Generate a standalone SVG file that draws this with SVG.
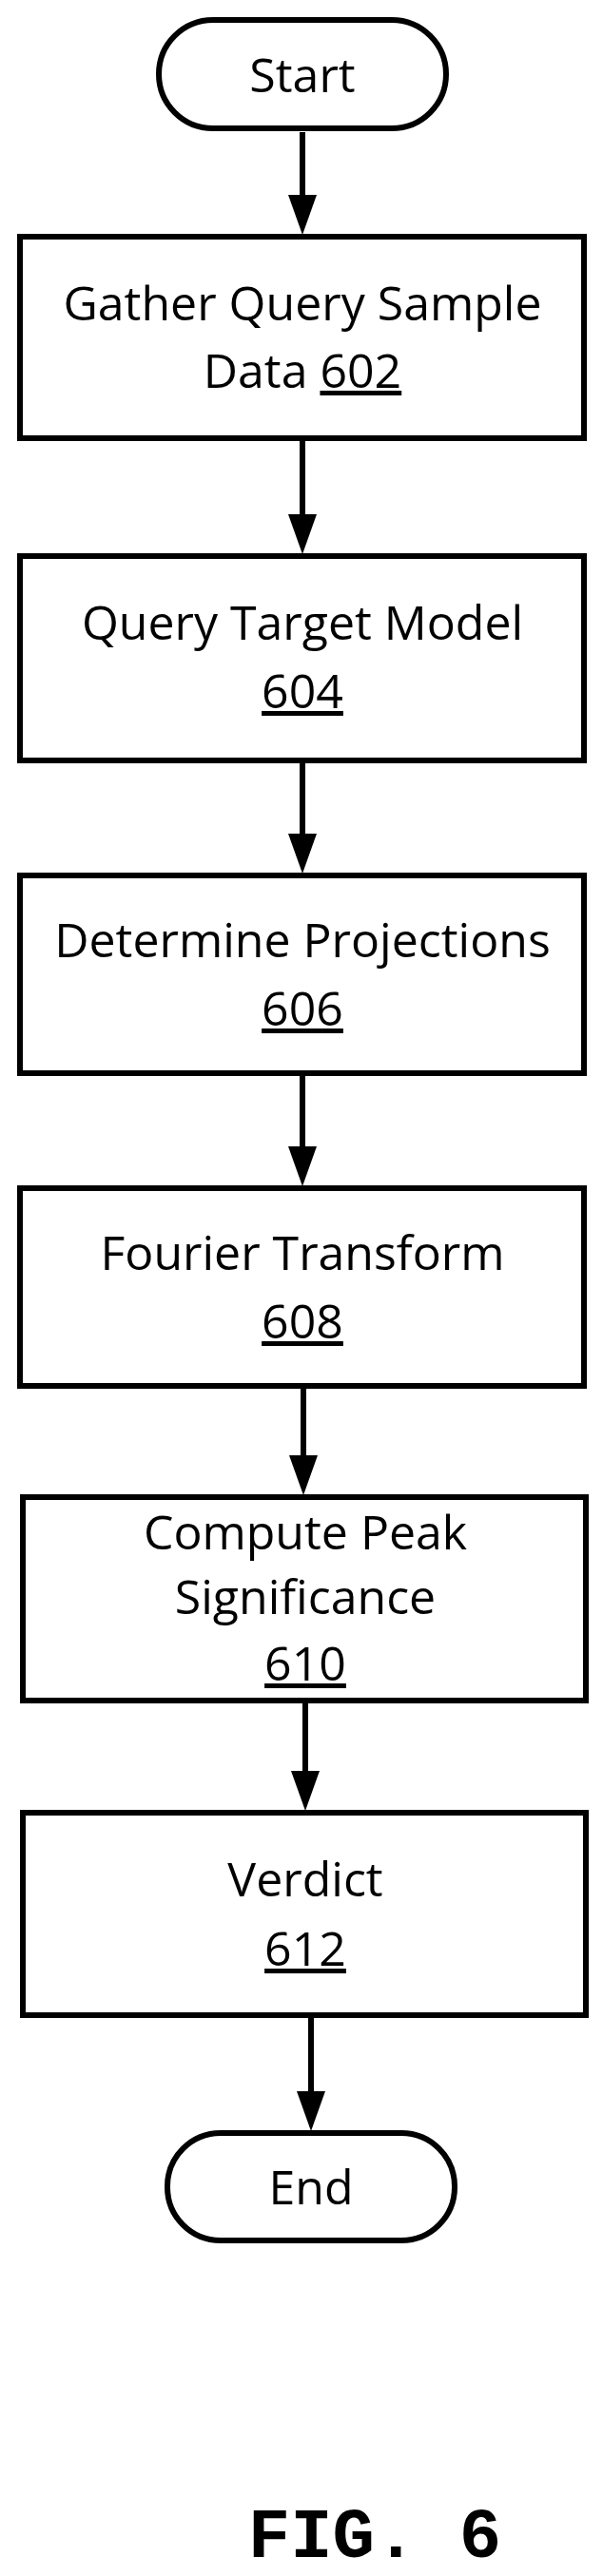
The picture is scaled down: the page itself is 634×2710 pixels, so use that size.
<svg xmlns="http://www.w3.org/2000/svg" width="634" height="2710" viewBox="0 0 634 2710">
<style>
.b{fill:#fff;stroke:#000;stroke-width:6}
.t{font-family:"Open Sans","Liberation Sans",sans-serif;font-size:50px;text-anchor:middle;fill:#000}
.u{text-decoration:underline}
.c{stroke:#000;stroke-width:6;fill:none}
.h{fill:#000}
</style>
<g id="connectors">
<path class="c" d="M318,139V210"/><path class="h" d="M303,205h30l-15,42z"/>
<path class="c" d="M318,459V546"/><path class="h" d="M303,541h30l-15,42z"/>
<path class="c" d="M318,800V882"/><path class="h" d="M303,877h30l-15,42z"/>
<path class="c" d="M318,1129V1211"/><path class="h" d="M303,1206h30l-15,42z"/>
<path class="c" d="M319,1458V1536"/><path class="h" d="M304,1531h30l-15,42z"/>
<path class="c" d="M321,1791V1868"/><path class="h" d="M306,1863h30l-15,42z"/>
<path class="c" d="M327,2120V2205"/><path class="h" d="M312,2200h30l-15,42z"/>
</g>
<g id="start"><rect class="b" x="167" y="21" width="302" height="114" rx="57"/><text class="t" x="318" y="97">Start</text></g>
<g id="n602"><rect class="b" x="21" y="249" width="593" height="212"/><text class="t" x="318" y="337">Gather Query Sample</text><text class="t" x="318" y="408">Data <tspan class="u">602</tspan></text></g>
<g id="n604"><rect class="b" x="21" y="585" width="593" height="215"/><text class="t" x="318" y="673">Query Target Model</text><text class="t u" x="318" y="745">604</text></g>
<g id="n606"><rect class="b" x="21" y="921" width="593" height="208"/><text class="t" x="318" y="1007">Determine Projections</text><text class="t u" x="318" y="1079">606</text></g>
<g id="n608"><rect class="b" x="21" y="1250" width="593" height="208"/><text class="t" x="318" y="1336">Fourier Transform</text><text class="t u" x="318" y="1408">608</text></g>
<g id="n610"><rect class="b" x="24" y="1575" width="592" height="214"/><text class="t" x="321" y="1630">Compute Peak</text><text class="t" x="321" y="1698">Significance</text><text class="t u" x="321" y="1768">610</text></g>
<g id="n612"><rect class="b" x="24" y="1907" width="592" height="213"/><text class="t" x="321" y="1995">Verdict</text><text class="t u" x="321" y="2068">612</text></g>
<g id="end"><rect class="b" x="176" y="2244" width="302" height="113" rx="56"/><text class="t" x="327" y="2319">End</text></g>
<text x="394" y="2690" font-family="Liberation Mono,monospace" font-weight="bold" font-size="74" text-anchor="middle">FIG. 6</text>
</svg>
